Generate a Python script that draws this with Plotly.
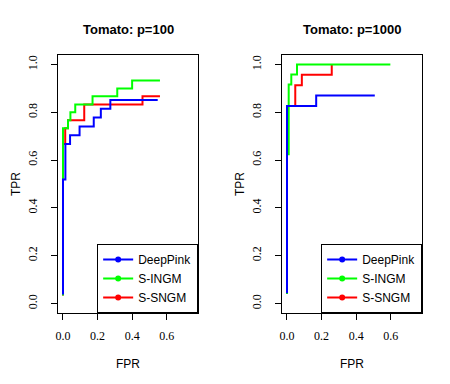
import plotly.graph_objects as go
from plotly.subplots import make_subplots

methods = ["DeepPink", "S-INGM", "S-SNGM"]
colors = {"DeepPink": "#0000FF", "S-INGM": "#00FF00", "S-SNGM": "#FF0000"}
titles = ["Tomato: p=100", "Tomato: p=1000"]

# p=100 ROC steps (FPR, TPR)
p100_deeppink_fpr = [0, 0, 0.014, 0.041, 0.096, 0.178, 0.219, 0.274, 0.548]
p100_deeppink_tpr = [0.037, 0.519, 0.667, 0.704, 0.741, 0.778, 0.815, 0.852, 0.852]
p100_ingm_fpr = [0, 0, 0.029, 0.043, 0.071, 0.171, 0.314, 0.40, 0.561]
p100_ingm_tpr = [0.033, 0.733, 0.767, 0.80, 0.833, 0.867, 0.90, 0.933, 0.933]
p100_sngm_fpr = [0, 0, 0.013, 0.029, 0.123, 0.46, 0.561]
p100_sngm_tpr = [0.033, 0.667, 0.733, 0.767, 0.833, 0.867, 0.867]

# p=1000 ROC steps
p1000_deeppink_fpr = [0, 0, 0.169, 0.508]
p1000_deeppink_tpr = [0.043, 0.826, 0.870, 0.870]
p1000_ingm_fpr = [0, 0, 0.01, 0.025, 0.058, 0.598]
p1000_ingm_tpr = [0.04, 0.625, 0.917, 0.958, 1.0, 1.0]
p1000_sngm_fpr = [0, 0, 0.048, 0.086, 0.259]
p1000_sngm_tpr = [0.04, 0.826, 0.913, 0.957, 1.0]

panels = [
    {
        "DeepPink": (p100_deeppink_fpr, p100_deeppink_tpr),
        "S-INGM": (p100_ingm_fpr, p100_ingm_tpr),
        "S-SNGM": (p100_sngm_fpr, p100_sngm_tpr),
    },
    {
        "DeepPink": (p1000_deeppink_fpr, p1000_deeppink_tpr),
        "S-INGM": (p1000_ingm_fpr, p1000_ingm_tpr),
        "S-SNGM": (p1000_sngm_fpr, p1000_sngm_tpr),
    },
]

W, H = 450, 384
OFF = 8  # page body margin


def px(x):
    return (x - OFF) / W


def py(y):
    return 1 - (y - OFF) / H


fig = make_subplots(rows=1, cols=2)
legend_names = ["legend", "legend2"]

for i, panel in enumerate(panels):
    col = i + 1
    # draw red, green, then blue on top
    for m in ["S-SNGM", "S-INGM", "DeepPink"]:
        fpr, tpr = panel[m]
        fig.add_trace(
            go.Scatter(
                x=fpr, y=tpr, mode="lines", line_shape="hv",
                line=dict(color=colors[m], width=2),
                showlegend=False, hoverinfo="skip",
            ),
            row=1, col=col,
        )
    for m in methods:
        fig.add_trace(
            go.Scatter(
                x=[None], y=[None], mode="lines+markers", name=m,
                line=dict(color=colors[m], width=2),
                marker=dict(color=colors[m], size=6),
                legend=legend_names[i],
            ),
            row=1, col=col,
        )

axis_common = dict(
    showline=True, mirror=True, linecolor="black", linewidth=1,
    ticks="outside", ticklen=6, tickcolor="black",
    showgrid=False, zeroline=False,
    tickfont=dict(family="Liberation Serif", size=12, color="black"),
)
fig.update_xaxes(
    range=[-0.03, 0.782], tickvals=[0, 0.2, 0.4, 0.6],
    ticktext=["0.0", "0.2", "0.4", "0.6"], ticklabelstandoff=6, **axis_common
)
fig.update_yaxes(
    range=[-0.04, 1.04], tickvals=[0, 0.2, 0.4, 0.6, 0.8, 1.0],
    ticktext=["0.0", "0.2", "0.4", "0.6", "0.8", "1.0"], tickangle=-90,
    ticklabelstandoff=9, **axis_common
)
fig.update_layout(
    xaxis=dict(domain=[px(56), px(197)]),
    xaxis2=dict(domain=[px(281), px(422)]),
    yaxis=dict(domain=[py(313), py(55)]),
    yaxis2=dict(domain=[py(313), py(55)]),
)

legend_style = dict(
    xanchor="right", yanchor="bottom", y=py(313),
    bgcolor="white", bordercolor="black", borderwidth=1,
    font=dict(family="Liberation Sans", size=12, color="black"),
    tracegroupgap=0, itemwidth=30,
)
fig.update_layout(
    legend=dict(x=px(197), **legend_style),
    legend2=dict(x=px(422), **legend_style),
)

x_centers = [127, 352]
for i, t in enumerate(titles):
    fig.add_annotation(
        x=px(x_centers[i]), y=py(30), xref="paper", yref="paper",
        xanchor="center", yanchor="middle",
        text="<b>" + t + "</b>", showarrow=False,
        font=dict(family="Liberation Sans", size=13, color="black"),
    )
    fig.add_annotation(
        x=px(x_centers[i]), y=py(364), xref="paper", yref="paper",
        xanchor="center", yanchor="middle",
        text="FPR", showarrow=False,
        font=dict(family="Liberation Sans", size=12, color="black"),
    )
for xc in [14, 239]:
    fig.add_annotation(
        x=px(xc), y=py(184), xref="paper", yref="paper",
        xanchor="center", yanchor="middle",
        text="TPR", showarrow=False, textangle=-90,
        font=dict(family="Liberation Sans", size=12, color="black"),
    )

fig.update_layout(
    width=W, height=H,
    margin=dict(l=0, r=0, t=0, b=0),
    paper_bgcolor="white", plot_bgcolor="white",
)
fig.write_html("out.html")
